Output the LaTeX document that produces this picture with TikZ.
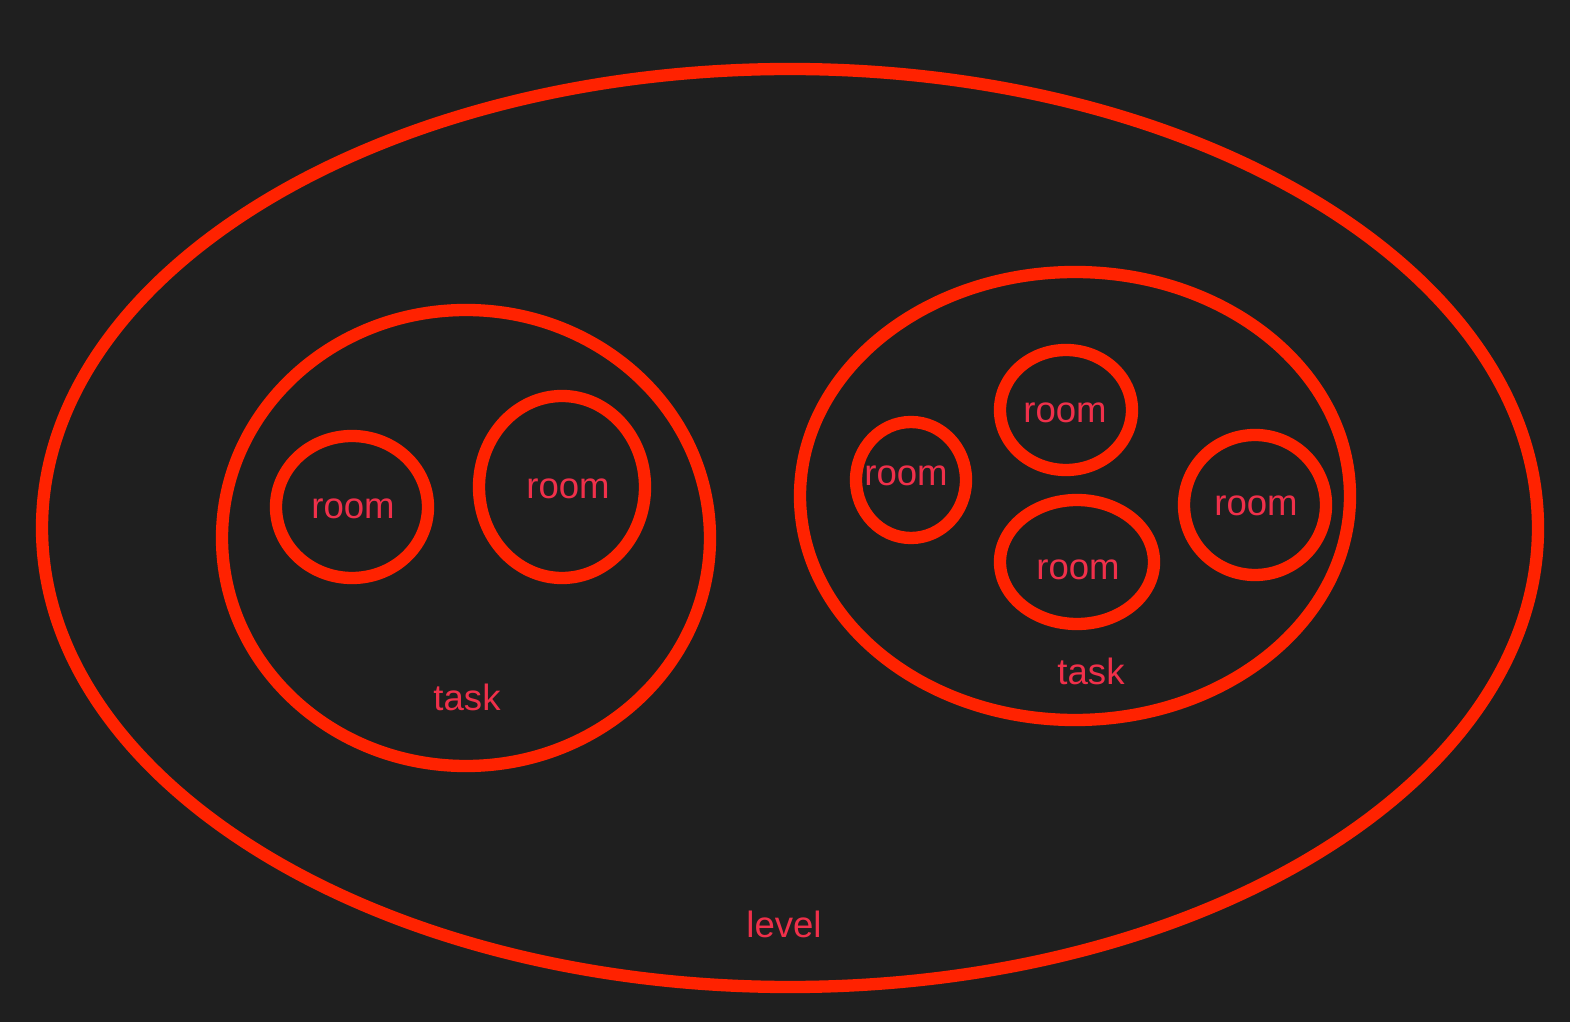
\documentclass[tikz,border=0pt]{standalone}
\usepackage{fontspec}
\setmainfont{Liberation Sans}
\usetikzlibrary{shapes.geometric}
\definecolor{bg}{HTML}{1F1F1F}
\definecolor{ring}{HTML}{FF2200}
\definecolor{lbl}{HTML}{F0304A}
\begin{document}
\begin{tikzpicture}[x=0.01cm,y=-0.01cm,
  ring/.style={draw=ring,line width=3.5pt},
  lab/.style={text=lbl,font=\fontsize{10.4}{12}\selectfont,inner sep=0pt,yshift=-0.03cm}]
\fill[bg] (0,0) rectangle (1570,1022);
\useasboundingbox (0,0) rectangle (1570,1022);
% level
\draw[ring] (790,528) ellipse [x radius=748, y radius=459];
% tasks
\draw[ring] (466,538) ellipse [x radius=244, y radius=228];
\draw[ring] (1075,496) ellipse [x radius=275, y radius=224];
% rooms
\draw[ring] (352,507) ellipse [x radius=76, y radius=71];
\draw[ring] (562,487) ellipse [x radius=83, y radius=91];
\draw[ring] (911,480) ellipse [x radius=55, y radius=58];
\draw[ring] (1066,410) ellipse [x radius=66, y radius=60];
\draw[ring] (1077,562) ellipse [x radius=77, y radius=62];
\draw[ring] (1255,505) ellipse [x radius=71, y radius=70];
% labels
\node[lab] (r1) at (353,506) {room};
\node[lab] (r2) at (568,486) {room};
\node[lab] (r3) at (906,473) {room};
\node[lab] (r4) at (1065,410) {room};
\node[lab] (r5) at (1078,567) {room};
\node[lab] (r6) at (1256,503) {room};
\node[lab] (t1) at (467,694) {task};
\node[lab] (t2) at (1091,668) {task};
\node[lab] (lv) at (784,921) {level};
\end{tikzpicture}
\end{document}
